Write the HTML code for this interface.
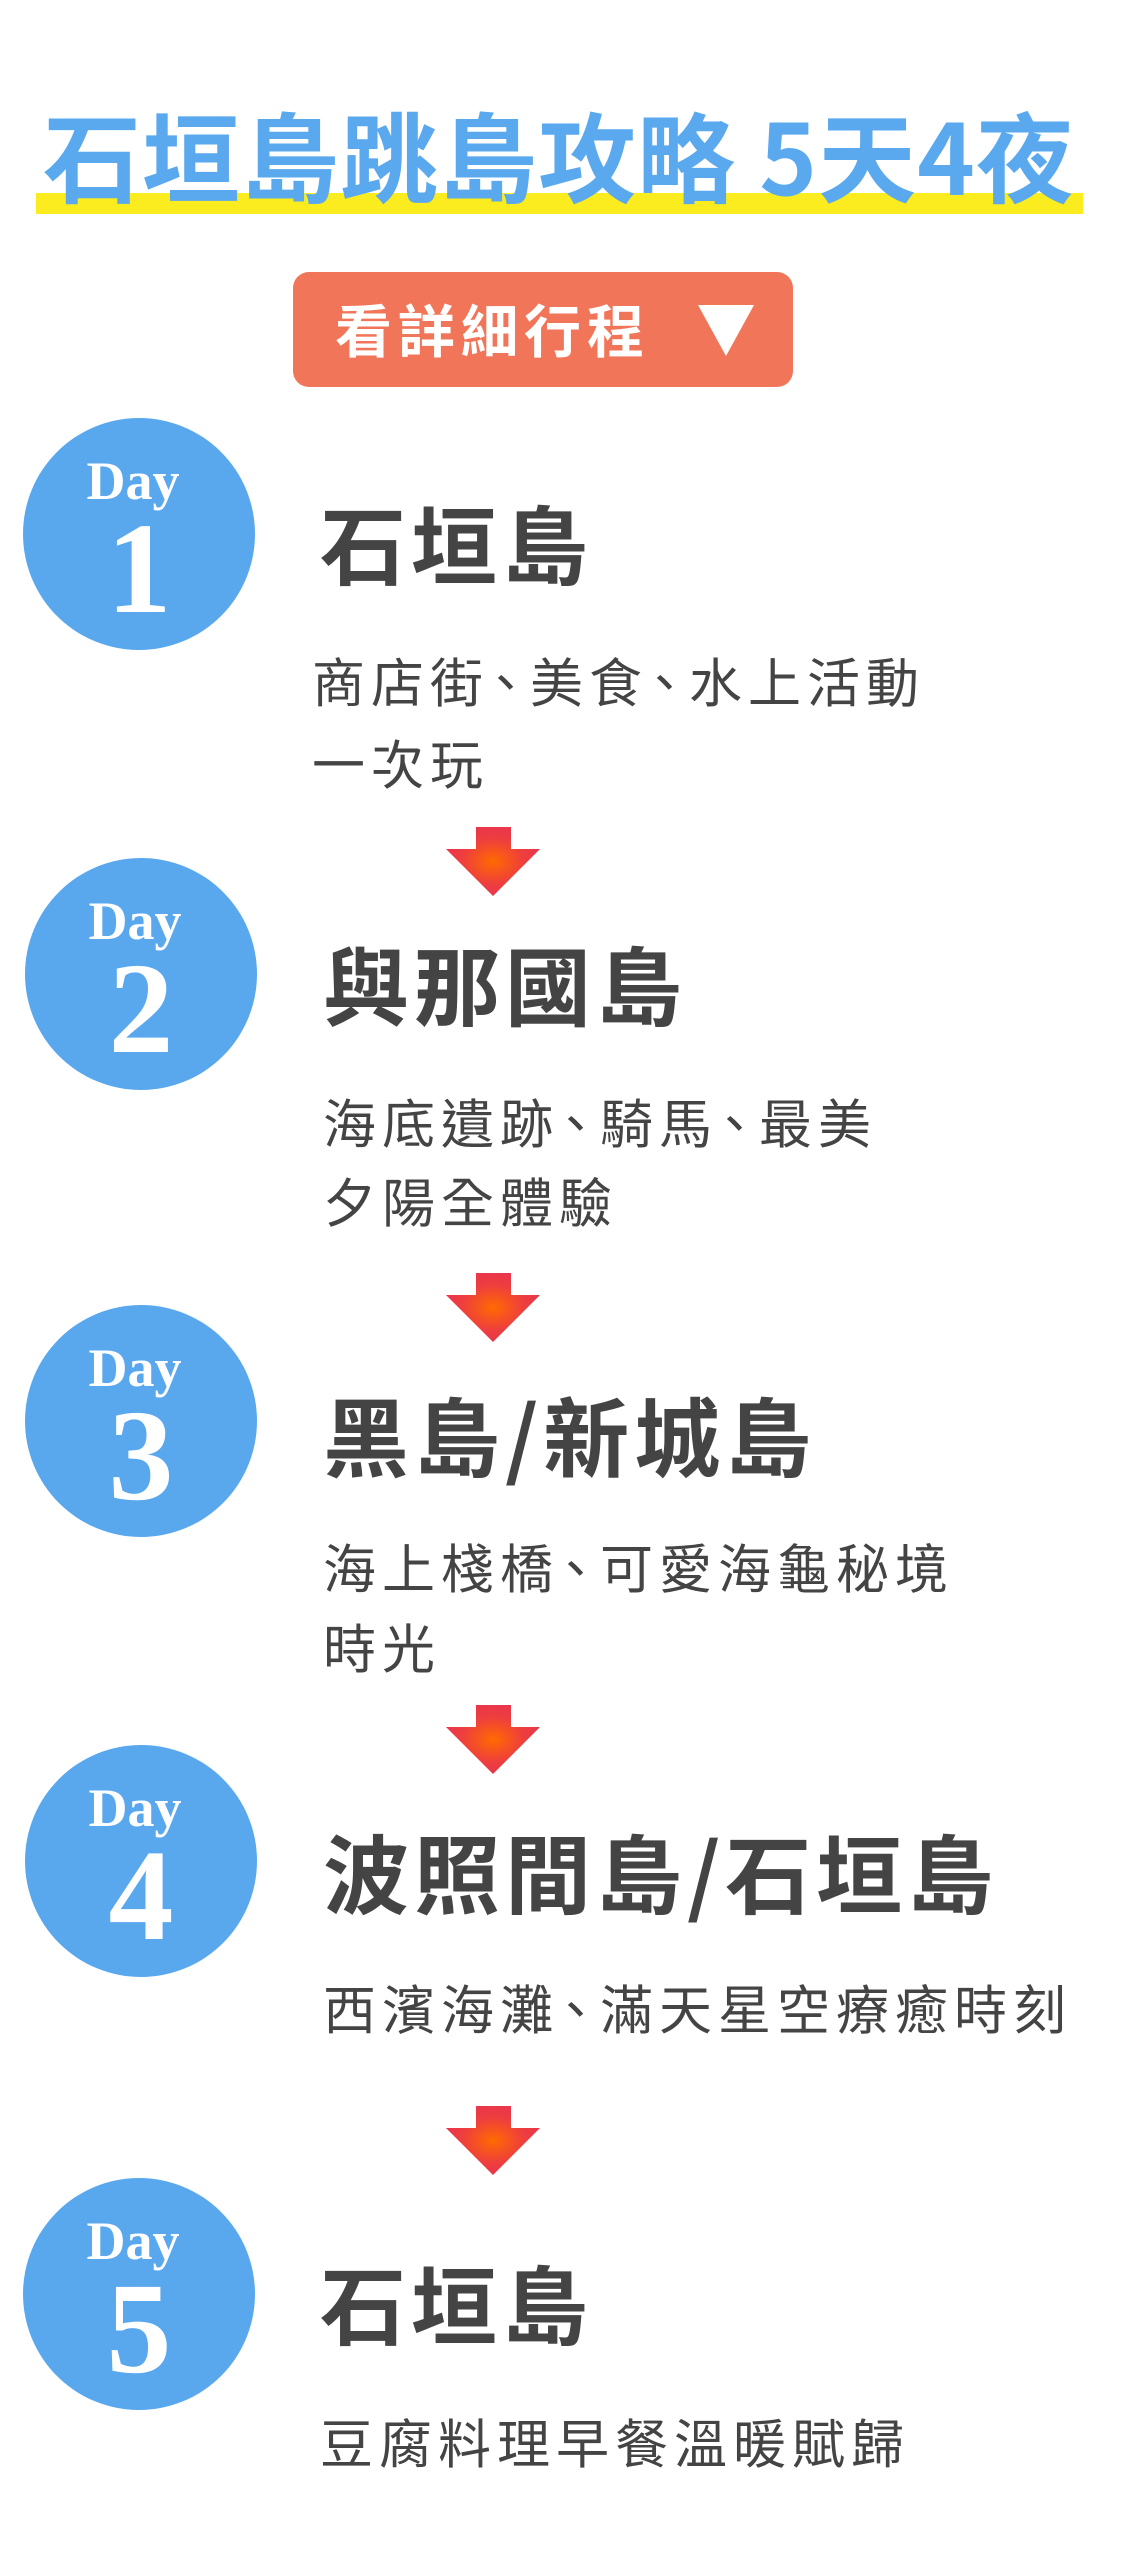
<!DOCTYPE html>
<html><head><meta charset="utf-8"><style>
html,body{margin:0;padding:0;background:#fff}
body{width:1122px;height:2550px;position:relative;overflow:hidden;font-family:"Noto Sans CJK TC","Liberation Sans",sans-serif}
.a{position:absolute;white-space:nowrap}
.h{position:absolute;left:0;width:1122px;text-align:center}
.bar{position:absolute;left:36px;top:193px;width:1047px;height:21px;background:#fbec1f}
.ttl{top:93px;font-size:98px;line-height:120px;font-weight:bold;color:#5aa9ee;left:-2px;letter-spacing:1px}
.btn{position:absolute;left:293px;top:272px;width:500px;height:115px;background:#f17558;border-radius:16px}
.c{position:absolute;width:232px;height:232px;border-radius:50%;background:#59a8ee;color:#fff;font-family:"Liberation Serif",serif;font-weight:bold;text-align:center}
.c .d{position:absolute;left:0;width:220px;top:36px;font-size:54px;line-height:54px}
.c .n{position:absolute;left:0;width:232px;top:90px;font-size:130px;line-height:122px}
.t{font-size:86px;line-height:100px;font-weight:bold;color:#444;letter-spacing:5px}
.s{font-size:53px;line-height:64px;color:#444;letter-spacing:6px}
.p{margin-left:-10px;letter-spacing:-2px}
</style></head><body>
<div class="bar"></div>
<div class="h ttl">石垣島跳島攻略 5天4夜</div>
<div class="btn"></div>
<div class="a" style="left:335px;top:290px;font-size:57px;line-height:76px;color:#fff;font-weight:bold;letter-spacing:6px">看詳細行程</div>
<svg class="a" style="left:690px;top:300px" width="72" height="60"><polygon points="8,5 64,5 36,56" fill="#fff"/></svg>

<svg width="0" height="0" style="position:absolute"><defs><radialGradient id="g" cx="0.5" cy="0.5" r="0.55"><stop offset="0" stop-color="#ff6a00"/><stop offset="0.6" stop-color="#ee3e3e"/><stop offset="1" stop-color="#e8344f"/></radialGradient></defs></svg>

<div class="c" style="left:23px;top:418px"><div class="d">Day</div><div class="n">1</div></div>
<div class="a t" style="left:320px;top:491px">石垣島</div>
<div class="a s" style="left:312px;top:648px">商店街<span class="p">、</span>美食<span class="p">、</span>水上活動</div>
<div class="a s" style="left:312px;top:730px">一次玩</div>

<svg class="a" style="left:446px;top:827px" width="95" height="70"><polygon points="30,0 65,0 65,22 94,22 47,69 0,22 30,22" fill="url(#g)"/></svg>

<div class="c" style="left:25px;top:858px"><div class="d">Day</div><div class="n">2</div></div>
<div class="a t" style="left:323px;top:932px">與那國島</div>
<div class="a s" style="left:323px;top:1089px">海底遺跡<span class="p">、</span>騎馬<span class="p">、</span>最美</div>
<div class="a s" style="left:323px;top:1168px">夕陽全體驗</div>

<svg class="a" style="left:446px;top:1273px" width="95" height="70"><polygon points="30,0 65,0 65,22 94,22 47,69 0,22 30,22" fill="url(#g)"/></svg>

<div class="c" style="left:25px;top:1305px"><div class="d">Day</div><div class="n">3</div></div>
<div class="a t" style="left:323px;top:1383px">黑島/新城島</div>
<div class="a s" style="left:323px;top:1534px">海上棧橋<span class="p">、</span>可愛海龜秘境</div>
<div class="a s" style="left:323px;top:1614px">時光</div>

<svg class="a" style="left:446px;top:1705px" width="95" height="70"><polygon points="30,0 65,0 65,22 94,22 47,69 0,22 30,22" fill="url(#g)"/></svg>

<div class="c" style="left:25px;top:1745px"><div class="d">Day</div><div class="n">4</div></div>
<div class="a t" style="left:323px;top:1820px">波照間島/石垣島</div>
<div class="a s" style="left:323px;top:1975px">西濱海灘<span class="p">、</span>滿天星空療癒時刻</div>

<svg class="a" style="left:446px;top:2106px" width="95" height="70"><polygon points="30,0 65,0 65,22 94,22 47,69 0,22 30,22" fill="url(#g)"/></svg>

<div class="c" style="left:23px;top:2178px"><div class="d">Day</div><div class="n">5</div></div>
<div class="a t" style="left:320px;top:2251px">石垣島</div>
<div class="a s" style="left:320px;top:2409px">豆腐料理早餐溫暖賦歸</div>
</body></html>
